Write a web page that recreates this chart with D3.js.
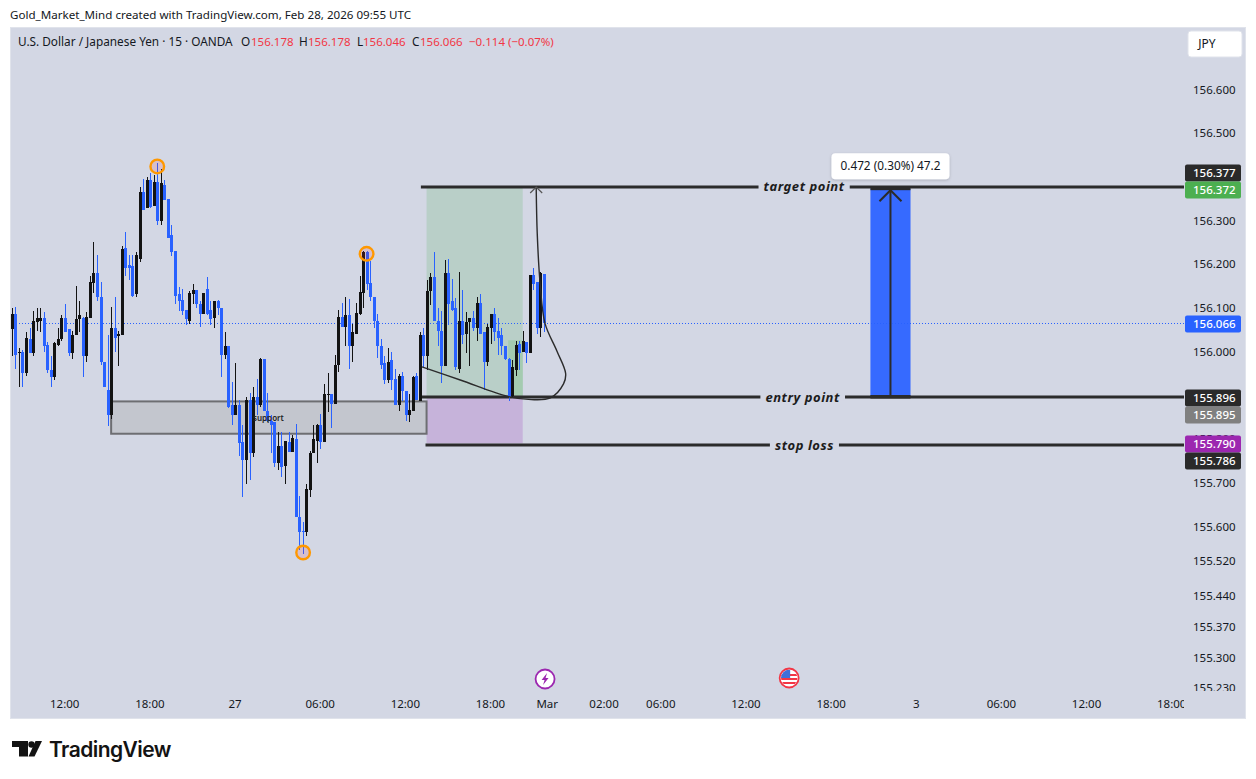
<!DOCTYPE html>
<html>
<head>
<meta charset="utf-8">
<script src="https://cdn.jsdelivr.net/npm/d3@7"></script>
<style>
  html, body { margin: 0; padding: 0; background: #fff; }
  svg { display: block; }
  text { font-family: "Noto Sans", sans-serif; }
</style>
</head>
<body>
<div id="chart"></div>
<script>
// USDJPY 15m candles
var opens = [
  156.051,156.087,155.998,156.000,155.950,156.030,155.998,156.067,156.071,156.078,
  156.016,155.959,155.941,156.016,156.028,156.078,156.051,155.996,156.037,156.074,
  156.078,155.991,156.078,156.158,156.181,156.126,155.977,155.913,155.856,156.055,
  156.035,156.039,156.238,156.199,156.195,156.131,156.211,156.366,156.328,156.392,
  156.334,156.389,156.298,156.382,156.350,156.266,156.231,156.131,156.119,156.096,
  156.071,156.133,156.142,156.110,156.087,156.144,156.096,156.078,156.115,156.099,
  155.993,156.014,155.877,155.856,155.877,155.792,155.751,155.890,155.769,155.897,
  155.877,155.984,155.865,155.842,155.838,155.744,155.785,155.737,155.794,155.771,
  155.801,155.622,155.590,155.588,155.684,155.767,155.796,155.833,155.794,155.902,
  155.902,155.879,155.970,156.080,156.057,156.083,156.012,156.041,156.087,156.135,
  156.227,156.158,156.124,156.071,156.014,155.973,155.934,155.980,155.938,155.877,
  155.945,155.909,155.854,155.865,155.945,155.888,156.039,155.991,156.138,156.170,
  156.069,156.048,155.966,156.181,156.115,156.099,155.961,156.069,156.041,156.067,
  156.076,156.053,156.112,156.046,155.977,156.053,156.087,156.048,156.037,156.014,
  155.984,155.899,155.959,156.018,156.000,156.023,155.996,156.176,156.160,156.055,
  156.178
];
var highs = [
  156.100,156.103,156.009,156.004,156.044,156.053,156.092,156.099,156.100,156.090,
  156.021,155.991,156.021,156.055,156.083,156.108,156.051,156.048,156.151,156.117,
  156.079,156.090,156.174,156.252,156.222,156.160,155.977,156.039,156.103,156.126,
  156.048,156.241,156.275,156.222,156.222,156.229,156.376,156.396,156.401,156.408,
  156.405,156.431,156.419,156.394,156.350,156.289,156.231,156.147,156.144,156.096,
  156.138,156.154,156.142,156.115,156.135,156.170,156.117,156.117,156.119,156.099,
  156.044,156.014,155.931,155.973,155.890,155.831,155.895,155.906,155.918,155.938,
  155.986,155.984,155.906,155.854,155.840,155.815,155.817,155.796,155.817,155.810,
  155.835,155.670,155.611,155.698,155.773,155.833,155.835,155.858,155.927,155.952,
  155.904,155.993,156.096,156.112,156.124,156.121,156.063,156.112,156.174,156.231,
  156.231,156.208,156.124,156.087,156.028,155.989,156.009,156.000,155.961,155.948,
  155.954,155.909,155.904,155.945,155.952,156.046,156.053,156.165,156.181,156.227,
  156.101,156.092,156.209,156.211,156.167,156.122,156.183,156.142,156.090,156.076,
  156.094,156.124,156.133,156.046,156.064,156.087,156.099,156.078,156.053,156.014,
  155.986,155.980,156.025,156.025,156.048,156.023,156.176,156.192,156.160,156.183,
  156.178
];
var lows = [
  155.989,155.961,155.918,155.918,155.945,155.998,155.989,156.048,156.046,156.000,
  155.952,155.920,155.936,156.014,156.025,156.046,155.989,155.984,156.037,156.046,
  155.943,155.977,156.078,156.135,156.115,155.970,155.918,155.829,155.845,156.000,
  155.966,156.039,156.174,156.165,156.126,156.124,156.206,156.325,156.328,156.328,
  156.334,156.291,156.291,156.348,156.261,156.220,156.110,156.094,156.085,156.062,
  156.064,156.110,156.101,156.057,156.087,156.085,156.062,156.053,156.085,155.941,
  155.982,155.872,155.831,155.856,155.760,155.668,155.698,155.707,155.758,155.856,
  155.874,155.863,155.840,155.769,155.735,155.730,155.714,155.698,155.771,155.771,
  155.622,155.545,155.537,155.577,155.666,155.767,155.744,155.776,155.792,155.861,
  155.826,155.879,155.954,156.057,156.012,155.961,155.977,156.041,156.083,156.101,
  156.142,156.115,156.055,155.986,155.961,155.925,155.929,155.913,155.877,155.865,
  155.888,155.842,155.838,155.863,155.890,155.888,155.964,155.957,156.106,156.069,
  156.012,155.929,155.966,156.062,156.092,155.957,155.952,156.018,155.996,155.966,
  156.048,156.025,156.041,155.911,155.968,156.018,156.025,155.993,155.993,155.980,
  155.888,155.893,155.945,155.959,156.000,155.975,155.996,156.142,156.041,156.034,
  156.046
];
var closes = [
  156.087,155.993,156.000,155.950,156.032,155.998,156.069,156.076,156.078,156.014,
  155.957,155.941,156.019,156.030,156.078,156.046,155.996,156.039,156.074,156.083,
  155.991,156.080,156.160,156.181,156.124,155.977,155.918,155.854,156.053,156.032,
  156.041,156.236,156.192,156.192,156.128,156.222,156.366,156.325,156.392,156.332,
  156.389,156.298,156.385,156.348,156.261,156.229,156.128,156.115,156.094,156.074,
  156.135,156.140,156.108,156.087,156.135,156.087,156.074,156.115,156.101,155.993,
  156.012,155.874,155.856,155.877,155.790,155.751,155.890,155.769,155.897,155.877,
  155.984,155.863,155.842,155.833,155.744,155.785,155.735,155.796,155.771,155.803,
  155.622,155.586,155.588,155.686,155.769,155.799,155.833,155.794,155.904,155.904,
  155.879,155.970,156.080,156.057,156.083,156.014,156.046,156.089,156.137,156.227,
  156.156,156.124,156.069,156.012,155.970,155.936,155.977,155.936,155.877,155.945,
  155.909,155.854,155.867,155.943,155.890,156.037,155.991,156.138,156.172,156.069,
  156.048,155.966,156.179,156.110,156.096,155.964,156.069,156.039,156.067,156.076,
  156.053,156.112,156.041,155.977,156.057,156.087,156.046,156.032,156.012,155.984,
  155.897,155.964,156.016,155.998,156.025,155.996,156.176,156.156,156.053,156.179,
  156.066
];

// axis ticks
var priceTicks = [156.6,156.5,156.3,156.2,156.1,156.0,155.8,155.7,155.6,155.52,155.44,155.37,155.3,155.23];
var timeTickBars = [15,39,63,87,111,135,151,167,183,207,231,255,279,303,327];
var timeTickLabels = ["12:00","18:00","27","06:00","12:00","18:00","Mar","02:00","06:00","12:00","18:00","3","06:00","12:00","18:00"];

// price tags on the right axis
var tagValues = [156.377,156.372,156.066,155.896,155.895,155.790,155.786];
var tagColors = ["#2a2a2a","#4caf50","#2962ff","#2a2a2a","#808080","#9c27b0","#2a2a2a"];
var tagShift = [-14,1,1,1,18,1,16];

// drawings, x in bars and y in price
var levelNames = ["target point","entry point","stop loss"];
var levelPrices = [156.377,155.896,155.786];
var levelStartBars = [115.3,115.3,116.6];
var levelNameBars = [223.3,222.9,223.4];
var swingBars = [41,100,82.1];
var swingPrices = [156.424,156.224,155.54];
var curveBars = [115.6,126.4,140,146.4,151.8,155.5,156.1,153.6,150.3,148.9,148.1,147.8];
var curvePrices = [155.965,155.935,155.897,155.890,155.894,155.926,155.950,156.002,156.064,156.157,156.269,156.377];

var width = 1256, height = 779;
var paneLeft = 10, paneTop = 27, paneRight = 1184, paneBottom = 691;

var x = d3.scaleLinear().domain([0, 327]).range([11.8, 1172]);
var y = d3.scaleLinear().domain([155.23, 156.6]).range([687.9, 89.6]);

var svg = d3.select("#chart").append("svg").attr("width", width).attr("height", height);

svg.append("text").attr("x", 10).attr("y", 19).attr("font-size", 11.6).attr("fill", "#131722")
  .text("Gold_Market_Mind created with TradingView.com, Feb 28, 2026 09:55 UTC");

svg.append("rect").attr("x", 10.5).attr("y", 27.5).attr("width", 1235).attr("height", 691)
  .attr("fill", "#d3d7e4").attr("stroke", "#e0e3eb");

var defs = svg.append("defs");
defs.append("clipPath").attr("id", "paneClip").append("rect")
  .attr("x", paneLeft + 1).attr("y", paneTop + 1).attr("width", paneRight - paneLeft - 1).attr("height", paneBottom - paneTop - 1);
defs.append("clipPath").attr("id", "timeClip").append("rect")
  .attr("x", paneLeft).attr("y", paneBottom).attr("width", paneRight - paneLeft).attr("height", 26);
defs.append("clipPath").attr("id", "priceClip").append("rect")
  .attr("x", paneRight).attr("y", paneTop).attr("width", 62).attr("height", paneBottom - paneTop);
defs.append("filter").attr("id", "tipShadow").attr("x", "-10%").attr("y", "-30%").attr("width", "120%").attr("height", "170%")
  .append("feDropShadow").attr("dx", 0).attr("dy", 1).attr("stdDeviation", 1.5).attr("flood-color", "#000").attr("flood-opacity", 0.2);

var pane = svg.append("g").attr("clip-path", "url(#paneClip)");

// long position boxes
pane.append("rect").attr("x", x(116.9)).attr("width", x(144) - x(116.9))
  .attr("y", y(156.377)).attr("height", y(155.896) - y(156.377)).attr("fill", "#b9cfc8");
pane.append("rect").attr("x", x(116.9)).attr("width", x(144) - x(116.9))
  .attr("y", y(155.896)).attr("height", y(155.79) - y(155.896)).attr("fill", "#c6b3da");
pane.append("rect").attr("x", x(139.9)).attr("width", x(144) - x(139.9))
  .attr("y", y(156.026)).attr("height", y(155.896) - y(156.026)).attr("fill", "#a4cbb0");

// support zone
pane.append("rect").attr("x", x(28)).attr("width", x(116.9) - x(28))
  .attr("y", y(155.886)).attr("height", y(155.812) - y(155.886))
  .attr("fill", "#c3c6ce").attr("stroke", "#6d6e72").attr("stroke-width", 2);

// measured move block
pane.append("rect").attr("x", x(242)).attr("width", x(253.3) - x(242))
  .attr("y", y(156.372)).attr("height", y(155.896) - y(156.372)).attr("fill", "#366aff");

// last price line
pane.append("line").attr("x1", paneLeft).attr("x2", paneRight)
  .attr("y1", Math.round(y(closes[closes.length - 1])) + 0.5).attr("y2", Math.round(y(closes[closes.length - 1])) + 0.5)
  .attr("stroke", "#2962ff").attr("stroke-dasharray", "1 2");

// horizontal levels with a gap for their names
levelNames.forEach(function(name, i) {
  var ly = y(levelPrices[i]);
  pane.append("line").attr("x1", x(levelStartBars[i])).attr("x2", paneRight)
    .attr("y1", ly).attr("y2", ly).attr("stroke", "#2b2b2b").attr("stroke-width", 3);
  var gap = pane.append("rect").attr("fill", "#d3d7e4");
  var label = pane.append("text").attr("x", x(levelNameBars[i])).attr("y", ly + 4.5)
    .attr("text-anchor", "middle").attr("font-size", 13).attr("font-weight", 700)
    .attr("font-style", "italic").attr("letter-spacing", 0.55).attr("fill", "#1c1c1c").text(name);
  var box = label.node().getBBox();
  gap.attr("x", box.x - 5).attr("width", box.width + 10).attr("y", ly - 3).attr("height", 6);
});

// candles
var bars = d3.range(opens.length);
var isUp = function(i) { return closes[i] >= opens[i]; };
var candleColor = function(i) { return isUp(i) ? "#131313" : "#2962ff"; };

pane.selectAll("rect.wick").data(bars).join("rect").attr("class", "wick")
  .attr("shape-rendering", "crispEdges")
  .attr("x", function(i) { return Math.round(x(i)); })
  .attr("width", 1)
  .attr("y", function(i) { return Math.round(y(highs[i])); })
  .attr("height", function(i) { return Math.max(1, Math.round(y(lows[i])) - Math.round(y(highs[i]))); })
  .attr("fill", candleColor);

pane.selectAll("rect.body").data(bars).join("rect").attr("class", "body")
  .attr("shape-rendering", "crispEdges")
  .attr("x", function(i) { return Math.round(x(i)) - 1; })
  .attr("width", 3)
  .attr("y", function(i) { return Math.round(y(Math.max(opens[i], closes[i]))); })
  .attr("height", function(i) { return Math.max(1, Math.round(y(Math.min(opens[i], closes[i]))) - Math.round(y(Math.max(opens[i], closes[i])))); })
  .attr("fill", candleColor);

// swing markers
swingBars.forEach(function(b, i) {
  pane.append("circle").attr("cx", x(b)).attr("cy", y(swingPrices[i])).attr("r", 6.8)
    .attr("fill", "#f23645").attr("fill-opacity", 0.15)
    .attr("stroke", "#ff9800").attr("stroke-width", 2.4);
});

// projected path and its arrow
var curve = d3.line().x(function(d) { return x(d[0]); }).y(function(d) { return y(d[1]); }).curve(d3.curveCatmullRom);
pane.append("path").attr("d", curve(d3.zip(curveBars, curvePrices)))
  .attr("fill", "none").attr("stroke", "#2b2b2b").attr("stroke-width", 1.4);
pane.append("path").attr("fill", "none").attr("stroke", "#555").attr("stroke-width", 1.2)
  .attr("d", "M" + (x(147.8) - 6) + "," + (y(156.377) + 6) + "L" + x(147.8) + "," + y(156.377) + "L" + (x(147.8) + 6) + "," + (y(156.377) + 6));

// measured move arrow
var arrowX = x(247.65);
pane.append("line").attr("x1", arrowX).attr("x2", arrowX).attr("y1", y(155.896)).attr("y2", y(156.372))
  .attr("stroke", "#2b2b2b").attr("stroke-width", 2);
pane.append("path").attr("fill", "none").attr("stroke", "#2b2b2b").attr("stroke-width", 2)
  .attr("d", "M" + (arrowX - 11) + "," + (y(156.372) + 12) + "L" + arrowX + "," + (y(156.372) + 1) + "L" + (arrowX + 11) + "," + (y(156.372) + 12));
pane.append("rect").attr("x", x(242)).attr("width", x(253.3) - x(242)).attr("y", y(156.372) - 2).attr("height", 3).attr("fill", "#2b2b2b");
pane.append("rect").attr("x", x(242)).attr("width", x(253.3) - x(242)).attr("y", y(155.896) - 2).attr("height", 3.5).attr("fill", "#2b2b2b");

pane.append("text").attr("x", x(68)).attr("y", y(155.849) + 3).attr("font-size", 8)
  .attr("font-weight", 600).attr("fill", "#222").text("support");

// measure tooltip
var tipX = x(247.65);
pane.append("rect").attr("x", tipX - 59).attr("y", y(156.372) - 36).attr("width", 118).attr("height", 26).attr("rx", 4)
  .attr("fill", "#fff").attr("filter", "url(#tipShadow)");
pane.append("text").attr("x", tipX).attr("y", y(156.372) - 19).attr("text-anchor", "middle")
  .attr("font-size", 11.8).attr("fill", "#131722").text("0.472 (0.30%) 47.2");

// legend line
var legendNames = ["U.S. Dollar / Japanese Yen · 15 · OANDA","O","H","L","C"];
var legendNameX = [18,241,299,357,412];
var legendValues = ["156.178","156.178","156.046","156.066","−0.114 (−0.07%)"];
var legendValueX = [251,308,363,420,469];
legendNames.forEach(function(t, i) {
  svg.append("text").attr("x", legendNameX[i]).attr("y", 46).attr("font-size", 11.8).attr("fill", "#131722").text(t);
});
legendValues.forEach(function(t, i) {
  svg.append("text").attr("x", legendValueX[i]).attr("y", 46).attr("font-size", 11.5).attr("fill", "#f23645").text(t);
});

// price axis
var priceG = svg.append("g").attr("clip-path", "url(#priceClip)").append("g")
  .attr("transform", "translate(1193,0)")
  .call(d3.axisRight(y).tickValues(priceTicks).tickSize(0).tickPadding(0).tickFormat(d3.format(".3f")));
priceG.select(".domain").remove();
priceG.selectAll("text").attr("font-size", 11.5).attr("fill", "#131722").style("font-family", "'Noto Sans', sans-serif");

// price tags
tagValues.forEach(function(v, i) {
  var cy = Math.round(y(v)) + tagShift[i];
  svg.append("rect").attr("x", 1185).attr("y", cy - 8.5).attr("width", 56).attr("height", 17).attr("rx", 2).attr("fill", tagColors[i]);
  svg.append("text").attr("x", 1193).attr("y", cy + 4).attr("font-size", 11.5).attr("font-weight", 500)
    .attr("fill", "#fff").text(d3.format(".3f")(v));
});

// time axis
var timeG = svg.append("g").attr("clip-path", "url(#timeClip)").append("g")
  .attr("transform", "translate(-0.8,699.5)")
  .call(d3.axisBottom(x).tickValues(timeTickBars).tickSize(0).tickPadding(0)
    .tickFormat(function(d) { return timeTickLabels[timeTickBars.indexOf(d)]; }));
timeG.select(".domain").remove();
timeG.selectAll("text").attr("font-size", 11.5).attr("fill", "#131722").style("font-family", "'Noto Sans', sans-serif");

// currency button
svg.append("rect").attr("x", 1188).attr("y", 31).attr("width", 54).attr("height", 26).attr("rx", 3)
  .attr("fill", "#fff").attr("stroke", "#e0e3eb");
svg.append("text").attr("x", 1207).attr("y", 48).attr("text-anchor", "middle").attr("font-size", 12)
  .attr("fill", "#131722").text("JPY");

// event badges
var eventBars = [150.3,219.1];
svg.append("circle").attr("cx", x(eventBars[0])).attr("cy", 679).attr("r", 9.5).attr("fill", "#fff").attr("stroke", "#9c27b0").attr("stroke-width", 1.8);
svg.append("path").attr("transform", "translate(" + x(eventBars[0]) + ",679)")
  .attr("d", "M2,-6L-3.5,1H-0.5L-2,6L3.5,-1H0.5Z").attr("fill", "#9c27b0");
var flagClip = defs.append("clipPath").attr("id", "flagClip");
flagClip.append("circle").attr("cx", x(eventBars[1])).attr("cy", 678).attr("r", 8.2);
var flag = svg.append("g");
flag.append("circle").attr("cx", x(eventBars[1])).attr("cy", 678).attr("r", 9.5).attr("fill", "#fff").attr("stroke", "#f23645").attr("stroke-width", 1.8);
var flagInner = flag.append("g").attr("clip-path", "url(#flagClip)");
[-4, 0, 4].forEach(function(d) {
  flagInner.append("rect").attr("x", x(eventBars[1]) - 9).attr("y", 678 + d).attr("width", 18).attr("height", 2).attr("fill", "#f23645");
});
flagInner.append("rect").attr("x", x(eventBars[1]) - 9).attr("y", 669).attr("width", 10).attr("height", 9).attr("fill", "#3f6fd8");

// footer logo
var logo = svg.append("g").attr("fill", "#131313");
logo.append("path").attr("d", "M12,741H28V756.5H19V747H12Z");
logo.append("circle").attr("cx", 31.5).attr("cy", 744.5).attr("r", 3.2);
logo.append("path").attr("d", "M35.5,741H42L34.5,756.5H28.5Z");
svg.append("text").attr("x", 49).attr("y", 757).attr("font-size", 21).attr("font-weight", 600)
  .style("font-family", "Inter, sans-serif").attr("letter-spacing", -0.55).attr("fill", "#131313").text("TradingView");
</script>
</body>
</html>
